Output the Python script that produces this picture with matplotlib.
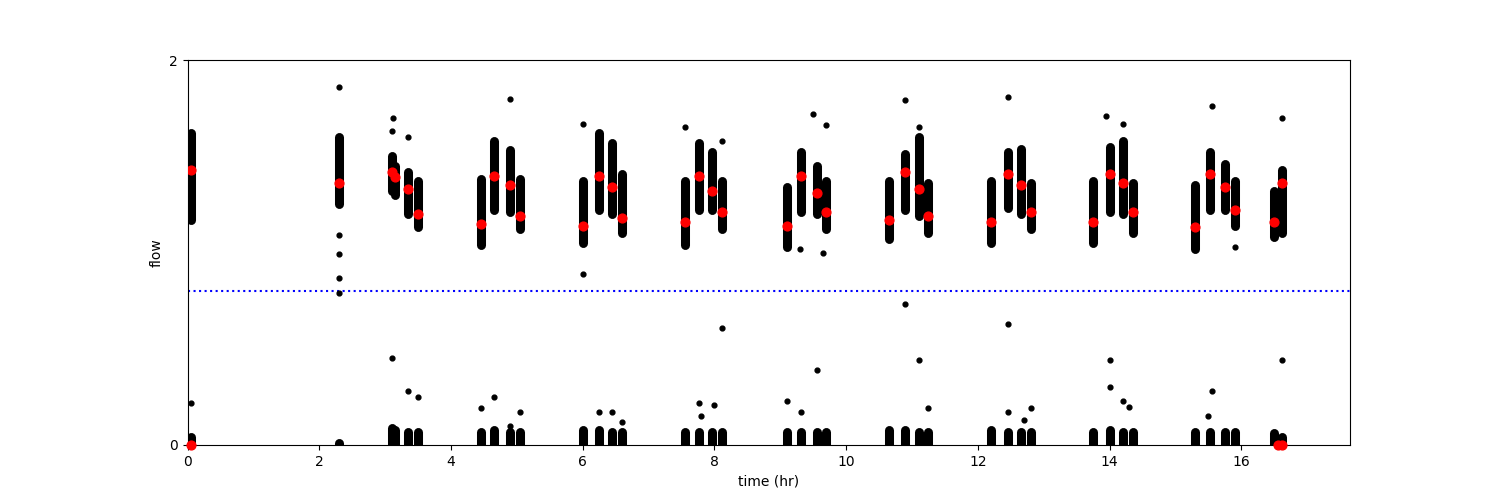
import matplotlib
matplotlib.use("Agg")
import matplotlib.pyplot as plt

# cluster x positions, low/high flow extents, and median (red)
cx = [0.05, 2.3, 3.1, 3.15, 3.35, 3.5,
      4.45, 4.65, 4.9, 5.05,
      6.0, 6.25, 6.45, 6.6,
      7.55, 7.77, 7.97, 8.12,
      9.1, 9.32, 9.55, 9.7,
      10.65, 10.9, 11.1, 11.25,
      12.2, 12.45, 12.65, 12.8,
      13.75, 14.0, 14.2, 14.35,
      15.3, 15.52, 15.75, 15.9,
      16.5, 16.62]
lo = [1.17, 1.25, 1.32, 1.30, 1.20, 1.13,
      1.04, 1.22, 1.21, 1.12,
      1.05, 1.22, 1.20, 1.10,
      1.04, 1.22, 1.22, 1.12,
      1.03, 1.21, 1.20, 1.12,
      1.07, 1.22, 1.19, 1.10,
      1.05, 1.23, 1.20, 1.12,
      1.05, 1.21, 1.20, 1.10,
      1.02, 1.22, 1.22, 1.14,
      1.08, 1.10]
hi = [1.62, 1.60, 1.50, 1.45, 1.42, 1.37,
      1.38, 1.58, 1.53, 1.38,
      1.37, 1.62, 1.57, 1.41,
      1.37, 1.57, 1.52, 1.37,
      1.34, 1.52, 1.45, 1.37,
      1.37, 1.51, 1.60, 1.36,
      1.37, 1.52, 1.54, 1.36,
      1.37, 1.55, 1.58, 1.36,
      1.35, 1.52, 1.46, 1.37,
      1.32, 1.43]
med = [1.43, 1.36, 1.42, 1.39, 1.33, 1.20,
       1.15, 1.40, 1.35, 1.19,
       1.14, 1.40, 1.34, 1.18,
       1.16, 1.40, 1.32, 1.21,
       1.14, 1.40, 1.31, 1.21,
       1.17, 1.42, 1.33, 1.19,
       1.16, 1.41, 1.35, 1.21,
       1.16, 1.41, 1.36, 1.21,
       1.13, 1.41, 1.34, 1.22,
       1.16, 1.36]
# low cluster top extents (near zero)
low_hi = [0.04, 0.01, 0.09, 0.08, 0.07, 0.07,
          0.07, 0.08, 0.07, 0.07,
          0.08, 0.08, 0.07, 0.07,
          0.07, 0.07, 0.07, 0.07,
          0.07, 0.07, 0.07, 0.07,
          0.08, 0.08, 0.07, 0.07,
          0.08, 0.07, 0.07, 0.07,
          0.07, 0.08, 0.07, 0.07,
          0.07, 0.07, 0.07, 0.07,
          0.06, 0.04]
# isolated points
ox = [0.05, 0.05, 2.3, 2.3, 2.3, 2.3, 2.3, 3.1, 3.12, 3.35, 3.5, 3.1, 3.35,
      4.45, 4.65, 4.9, 4.9, 5.05, 6.0, 6.0, 6.25, 6.45, 6.6, 7.55, 7.77, 7.8,
      8.0, 8.12, 8.12, 9.1, 9.3, 9.32, 9.5, 9.55, 9.7, 9.65, 10.9, 10.9, 11.1,
      11.1, 11.25, 12.45, 12.45, 12.45, 12.7, 12.8, 13.95, 14.0, 14.0, 14.2,
      14.3, 14.2, 15.55, 15.55, 15.5, 15.9, 16.62, 16.62]
oy = [0.22, 1.18, 1.86, 1.09, 0.99, 0.87, 0.79, 0.45, 1.70, 0.28, 0.25, 1.63, 1.60,
      0.19, 0.25, 1.80, 0.10, 0.17, 1.67, 0.89, 0.17, 0.17, 0.12, 1.65, 0.22, 0.15,
      0.21, 1.58, 0.61, 0.23, 1.02, 0.17, 1.72, 0.39, 1.66, 1.00, 1.79, 0.73, 1.65,
      0.44, 0.19, 1.81, 0.63, 0.17, 0.13, 0.19, 1.71, 0.44, 0.30, 1.67, 0.20, 0.23,
      1.76, 0.28, 0.15, 1.03, 1.70, 0.44]

fig, ax = plt.subplots(figsize=(15, 5), dpi=100)
ax.vlines(cx, lo, hi, colors="black", linewidth=6.5, capstyle="round")
ax.vlines(cx, [0.0] * len(cx), low_hi, colors="black", linewidth=6.5, capstyle="round")
ax.scatter(ox, oy, s=12, color="black", zorder=3)
ax.scatter(cx, med, s=40, color="red", zorder=4)
ax.scatter([0.05, 16.55, 16.62], [0.0, 0.0, 0.0], s=40, color="red", zorder=4, clip_on=False)
ax.axhline(0.8, color="blue", linestyle=":", linewidth=1.5)
ax.set_xlim(0, 17.65)
ax.set_ylim(0, 2)
ax.set_yticks([0, 2])
ax.set_xticks([0, 2, 4, 6, 8, 10, 12, 14, 16])
ax.set_xlabel("time (hr)")
ax.set_ylabel("flow")
fig.savefig("out.png")
